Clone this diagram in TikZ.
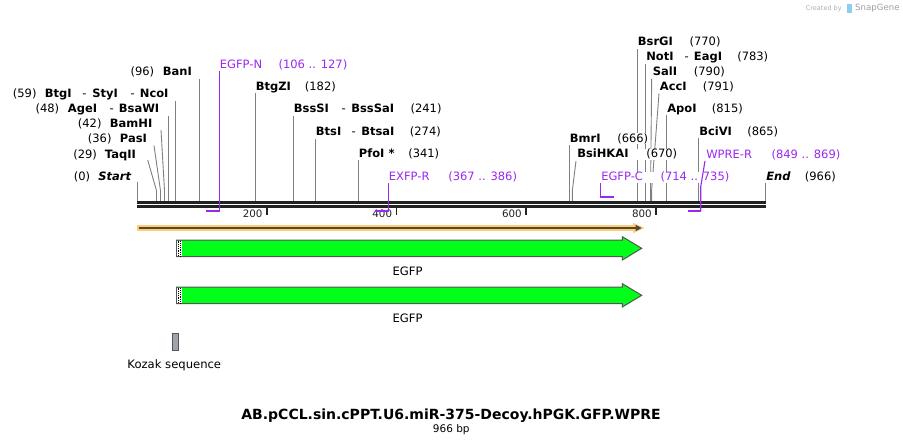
\documentclass[tikz,border=0pt]{standalone}
\usepackage{fontspec}
\setmainfont{DejaVu Sans}
\definecolor{site}{RGB}{128,128,128}
\definecolor{bb}{RGB}{34,34,34}
\definecolor{prim}{RGB}{155,40,240}
\definecolor{orng}{RGB}{255,204,120}
\definecolor{odark}{RGB}{85,72,50}
\definecolor{gfp}{RGB}{0,255,25}
\definecolor{gout}{RGB}{85,85,85}
\definecolor{koz}{RGB}{160,165,172}
\definecolor{wm}{RGB}{175,175,175}
\definecolor{wmlogo}{RGB}{140,205,240}
\newcommand\bx[2]{\makebox[#1pt][l]{#2}}
\tikzset{
  lbl/.style={anchor=base west, inner sep=0.4pt, fill=white, font=\fontsize{11.5}{12}\selectfont},
  plbl/.style={lbl, text=prim},
  siteline/.style={draw=site, line width=0.9},
  pline/.style={draw=prim, line width=1.1},
  pbar/.style={draw=prim, line width=2},
  bbline/.style={draw=bb, line width=2.7},
  tickmark/.style={draw=bb, line width=1.6},
  ticklbl/.style={anchor=base east, inner sep=0, font=\fontsize{10.3}{11}\selectfont, text=bb},
  gfpbox/.style={fill=gfp, draw=gout, line width=1, line join=miter},
  featlbl/.style={anchor=base, inner sep=0, font=\fontsize{11.6}{12}\selectfont},
}
\begin{document}
\begin{tikzpicture}[x=1pt,y=-1pt]
\useasboundingbox (0,0) rectangle (903,445);
\fill[white] (0,0) rectangle (903,445);

% watermark
\node[anchor=base west, inner sep=0, text=wm, font=\fontsize{6.5}{7}\selectfont] (cr) at (805.7,10) {Created by};
\fill[wmlogo] (846.5,4) rectangle (851.5,12.5);
\node[anchor=base west, inner sep=0, text=wm!120, font=\fontsize{8.6}{9}\selectfont] (sg) at (855,10.5) {SnapGene};

% site lines
\draw[siteline] (137.3,182)--(137.3,201.3);
\draw[siteline] (147.7,160)--(156.5,190.7)--(156.5,201.3);
\draw[siteline] (154,145.5)--(160.5,190.7)--(160.5,201.3);
\draw[siteline] (161,130)--(164.5,190.7)--(164.5,201.3);
\draw[siteline] (168.5,116)--(168.5,201.3);
\draw[siteline] (175.5,101)--(175.5,201.3);
\draw[siteline] (199.5,78.5)--(199.5,201.3);
\draw[siteline] (255.5,93)--(255.5,201.3);
\draw[siteline] (293.5,116)--(293.5,201.3);
\draw[siteline] (315.3,139)--(315.3,201.3);
\draw[siteline] (358.5,160)--(358.5,201.3);
\draw[siteline] (569.5,145)--(569.5,201.3);
\draw[siteline] (576,161)--(572.3,190.7)--(572.3,201.3);
\draw[siteline] (637.3,48.5)--(637.3,201.3);
\draw[siteline] (645.7,63.5)--(645.7,201.3);
\draw[siteline] (651.7,78.5)--(650.5,190.7)--(650.5,201.3);
\draw[siteline] (659,93.5)--(651.6,190.7)--(651.6,201.3);
\draw[siteline] (666.7,115)--(666.7,201.3);
\draw[siteline] (698.7,137.5)--(698.7,201.3);
\draw[siteline] (765.3,182.5)--(765.3,201.3);

% backbone
\draw[bbline] (137,202.7)--(765.7,202.7);
\draw[bbline] (137,206.7)--(765.7,206.7);

% ticks
\draw[tickmark] (266.7,208)--(266.7,214.5);
\draw[tickmark] (396.3,208)--(396.3,214.5);
\draw[tickmark] (526,208)--(526,214.5);
\draw[tickmark] (656,208)--(656,214.5);
\node[ticklbl] (t200) at (262.7,217.3) {200};
\node[ticklbl] (t400) at (392.3,217.3) {400};
\node[ticklbl] (t600) at (522,217.3) {600};
\node[ticklbl] (t800) at (652,217.3) {800};

% enzyme labels
\node[lbl] (lStart) at (73.3,180.7) {\bx{24.4}{(0)}\textbf{\textit{Start}}};
\node[lbl] (lTaqII) at (72.7,158.3) {\bx{31.6}{(29)}\textbf{TaqII}};
\node[lbl] (lPasI) at (87.3,142.7) {\bx{32}{(36)}\textbf{PasI}};
\node[lbl] (lBamHI) at (77.3,127.7) {\bx{32}{(42)}\textbf{BamHI}};
\node[lbl] (lAgeI) at (35,112.7) {\bx{32.3}{(48)}\bx{41.7}{\textbf{AgeI}}\bx{9.3}{-}\textbf{BsaWI}};
\node[lbl] (lNcoI) at (12.3,97.7) {\bx{32}{(59)}\bx{37.4}{\textbf{BtgI}}\bx{10}{-}\bx{38.3}{\textbf{StyI}}\bx{9.3}{-}\textbf{NcoI}};
\node[lbl] (lBanI) at (130,75.7) {\bx{32.3}{(96)}\textbf{BanI}};
\node[lbl] (lBtgZI) at (255.3,90.7) {\bx{49}{\textbf{BtgZI}}(182)};
\node[lbl] (lBssSI) at (293.3,112.7) {\bx{47.7}{\textbf{BssSI}}\bx{9.7}{-}\bx{59.3}{\textbf{BssSaI}}(241)};
\node[lbl] (lBtsI) at (315.3,135.3) {\bx{35.7}{\textbf{BtsI}}\bx{9.7}{-}\bx{48.6}{\textbf{BtsaI}}(274)};
\node[lbl] (lPfoI) at (358.3,157.3) {\bx{49.4}{\textbf{PfoI *}}(341)};
\node[lbl] (lBmrI) at (569.3,142.3) {\bx{47.4}{\textbf{BmrI}}(666)};
\node[lbl] (lBsiHKAI) at (576.7,157.7) {\bx{69}{\textbf{BsiHKAI}}(670)};
\node[lbl] (lBsrGI) at (637.3,45.7) {\bx{51.7}{\textbf{BsrGI}}(770)};
\node[lbl] (lNotI) at (645.7,60.7) {\bx{38.3}{\textbf{NotI}}\bx{9.3}{-}\bx{43.4}{\textbf{EagI}}(783)};
\node[lbl] (lSalI) at (652.3,75.7) {\bx{41}{\textbf{SalI}}(790)};
\node[lbl] (lAccI) at (659.3,90.7) {\bx{43}{\textbf{AccI}}(791)};
\node[lbl] (lApoI) at (666.7,112.7) {\bx{44.6}{\textbf{ApoI}}(815)};
\node[lbl] (lBciVI) at (698.7,135.3) {\bx{48}{\textbf{BciVI}}(865)};
\node[lbl] (lEnd) at (765.7,180.7) {\bx{38.6}{\textbf{\textit{End}}}(966)};

% primer labels
\node[plbl] (lEGFPN) at (219.3,68.3) {\bx{58.7}{EGFP-N}(106 .. 127)};
\node[plbl] (lEXFPR) at (388.3,180.7) {\bx{59.4}{EXFP-R}(367 .. 386)};
\node[plbl] (lEGFPC) at (600.7,180.7) {\bx{59.3}{EGFP-C}(714 .. 735)};
\node[plbl] (lWPRER) at (705.7,158.3) {\bx{65.3}{WPRE-R}(849 .. 869)};

% primers
\draw[pline] (219.3,71)--(219.3,210.7);
\draw[pbar] (206.2,210.7)--(219.85,210.7);
\draw[pline] (388.3,183)--(388.3,211);
\draw[pbar] (375,211)--(388.85,211);
\draw[pline] (600.7,183)--(600.7,197.3);
\draw[pbar] (600.15,197.3)--(614,197.3);
\draw[pline] (705,161)--(700.7,186.7)--(700.7,211);
\draw[pbar] (688.3,211)--(701.25,211);

% orange arrow
\draw[orng, line width=5.7] (136.7,228)--(636,228);
\fill[orng] (633,222.8)--(644.5,228)--(633,233.2)--cycle;
\draw[odark, line width=2] (139,228)--(636,228);
\fill[odark] (635.5,224.8)--(641.7,228)--(635.5,231.2)--cycle;

% EGFP arrows
\foreach \dy in {0,47}{
  \begin{scope}[yshift=-\dy pt]
    \path[gfpbox] (176.5,240)--(622.3,240)--(622.3,236.7)--(641.7,248.3)--(622.3,260)--(622.3,256.7)--(176.5,256.7)--cycle;
    \fill[white] (177,240.5) rectangle (181.5,256.2);
    \draw[black, line width=0.9, dash pattern=on 0.9pt off 0.9pt] (178,240.5)--(178,256.2);
    \draw[black, line width=0.9, dash pattern=on 0.9pt off 0.9pt, dash phase=0.9pt] (180,240.5)--(180,256.2);
  \end{scope}
}
\node[featlbl] (egfp1) at (407.5,275.5) {EGFP};
\node[featlbl] (egfp2) at (407.5,322.5) {EGFP};

% Kozak
\node[draw=gout, fill=koz, line width=0.8, minimum width=6pt, minimum height=16.7pt, inner sep=0] (koz) at (175.3,341.7) {};
\node[featlbl] (kozl) at (174.3,368.5) {Kozak sequence};

% title
\node[anchor=base, inner sep=0, font=\bfseries\fontsize{14}{16}\selectfont] (title) at (451,419) {AB.pCCL.sin.cPPT.U6.miR-375-Decoy.hPGK.GFP.WPRE};
\node[anchor=base, inner sep=0, font=\fontsize{10.5}{12}\selectfont] (bp) at (451.3,432.3) {966 bp};
\end{tikzpicture}
\end{document}
